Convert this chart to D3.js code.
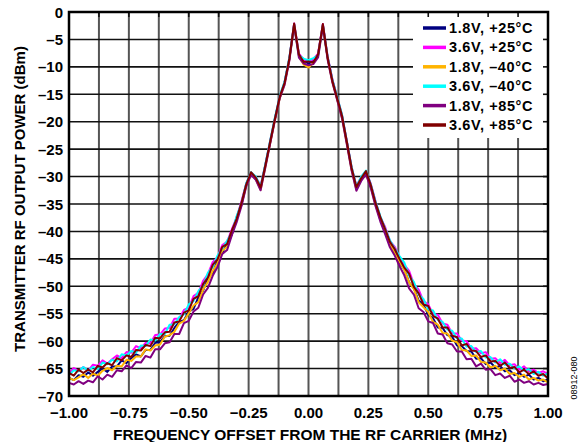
<!DOCTYPE html>
<html>
<head>
<meta charset="utf-8">
<script src="https://cdn.jsdelivr.net/npm/d3@7"></script>
<style>
  body { margin: 0; background: #fff; }
  text { font-family: Arial, "Liberation Sans", sans-serif; font-weight: bold; fill: #000; }
</style>
</head>
<body>
<svg id="chart" width="580" height="442"></svg>
<script>
// frequency offset (MHz), one sample every 0.02
const freq = [
  -1.00,-0.98,-0.96,-0.94,-0.92,-0.90,-0.88,-0.86,-0.84,-0.82,
  -0.80,-0.78,-0.76,-0.74,-0.72,-0.70,-0.68,-0.66,-0.64,-0.62,
  -0.60,-0.58,-0.56,-0.54,-0.52,-0.50,-0.48,-0.46,-0.44,-0.42,
  -0.40,-0.38,-0.36,-0.34,-0.32,-0.30,-0.28,-0.26,-0.24,-0.22,
  -0.20,-0.18,-0.16,-0.14,-0.12,-0.10,-0.08,-0.06,-0.04,-0.02,
   0.00, 0.02, 0.04, 0.06, 0.08, 0.10, 0.12, 0.14, 0.16, 0.18,
   0.20, 0.22, 0.24, 0.26, 0.28, 0.30, 0.32, 0.34, 0.36, 0.38,
   0.40, 0.42, 0.44, 0.46, 0.48, 0.50, 0.52, 0.54, 0.56, 0.58,
   0.60, 0.62, 0.64, 0.66, 0.68, 0.70, 0.72, 0.74, 0.76, 0.78,
   0.80, 0.82, 0.84, 0.86, 0.88, 0.90, 0.92, 0.94, 0.96, 0.98,
   1.00
];

// output power (dBm) per supply / temperature
const p18v25c = [
  -66.7,-67.1,-66.2,-66.5,-65.7,-66.3,-65.6,-65.0,-65.6,-64.6,
  -64.6,-63.5,-64.0,-63.1,-62.4,-62.8,-61.6,-61.6,-60.3,-60.2,
  -59.1,-59.0,-57.6,-56.5,-56.2,-54.6,-54.1,-52.0,-50.8,-48.4,
  -47.6,-45.2,-43.9,-42.1,-40.6,-37.4,-35.2,-31.4,-29.5,-30.2,
  -32.2,-27.9,-23.8,-19.4,-15.6,-12.9,-8.6,-2.2,-7.9,-8.8,
  -9.4,-8.9,-7.7,-2.3,-8.4,-12.5,-15.9,-19.1,-23.7,-28.6,
  -32.1,-30.3,-29.3,-31.8,-34.8,-37.9,-39.7,-42.4,-43.3,-45.7,
  -46.9,-49.3,-50.4,-52.6,-53.3,-55.2,-55.8,-57.5,-57.6,-58.9,
  -59.2,-60.8,-60.9,-61.8,-61.9,-63.2,-63.1,-64.2,-63.9,-64.8,
  -64.5,-65.5,-65.3,-66.2,-65.8,-66.5,-66.1,-67.0,-66.7,-67.3,
  -67.0
];
const p36v25c = [
  -65.9,-64.9,-65.4,-64.7,-65.4,-64.3,-64.5,-63.5,-64.1,-63.3,
  -62.6,-63.1,-62.0,-62.1,-60.9,-61.3,-60.3,-60.4,-58.9,-58.8,
  -57.7,-57.6,-55.9,-55.9,-54.3,-53.9,-51.8,-51.2,-49.0,-47.8,
  -45.6,-44.7,-42.5,-41.9,-39.6,-37.5,-34.5,-31.3,-29.3,-30.1,
  -31.7,-27.8,-23.5,-19.4,-15.4,-12.8,-8.4,-2.1,-7.6,-8.7,
  -9.0,-8.6,-7.6,-2.2,-8.1,-12.3,-15.6,-18.8,-23.5,-28.3,
  -31.7,-30.1,-29.0,-31.3,-34.5,-37.4,-39.2,-41.7,-42.8,-44.7,
  -46.1,-47.2,-49.6,-50.6,-52.7,-53.3,-55.1,-55.2,-56.8,-57.0,
  -58.6,-58.6,-59.9,-60.0,-61.4,-61.3,-62.2,-62.0,-63.2,-63.1,
  -64.0,-63.4,-64.4,-64.2,-65.2,-64.6,-65.5,-65.2,-65.8,-65.5,
  -66.0
];
const p18vm40c = [
  -66.7,-67.1,-66.6,-66.0,-66.7,-65.9,-66.3,-65.4,-64.9,-65.3,
  -64.5,-64.6,-63.4,-63.6,-62.8,-62.8,-61.5,-61.7,-60.8,-60.6,
  -59.2,-58.9,-58.3,-56.8,-56.3,-54.9,-53.5,-52.9,-50.6,-49.2,
  -47.2,-45.8,-43.5,-42.8,-40.3,-37.8,-35.1,-31.7,-29.6,-30.5,
  -32.4,-28.2,-23.9,-19.7,-15.7,-13.2,-8.7,-2.4,-8.1,-9.6,
  -10.1,-9.3,-8.0,-2.5,-8.5,-12.8,-16.0,-19.3,-24.0,-28.8,
  -32.4,-30.6,-29.5,-31.9,-35.2,-37.8,-40.2,-42.3,-43.9,-45.5,
  -47.0,-49.3,-50.5,-52.9,-53.8,-54.7,-56.5,-57.0,-58.5,-58.6,
  -59.9,-60.2,-61.6,-61.7,-62.7,-62.6,-63.8,-63.9,-64.8,-64.5,
  -65.3,-65.0,-66.0,-65.8,-66.5,-66.1,-67.0,-66.7,-67.2,-67.0,
  -67.5
];
const p36vm40c = [
  -66.2,-65.3,-65.5,-64.7,-65.4,-64.7,-65.1,-63.9,-64.2,-63.4,
  -63.7,-62.4,-62.6,-61.8,-62.1,-60.8,-60.9,-59.7,-59.9,-58.7,
  -58.7,-57.0,-56.9,-55.6,-55.1,-53.3,-52.7,-50.9,-49.9,-47.5,
  -46.5,-44.4,-43.1,-41.7,-40.2,-37.2,-34.9,-31.2,-29.2,-30.0,
  -31.8,-27.7,-23.4,-19.2,-15.3,-12.7,-8.3,-2.3,-7.9,-8.5,
  -8.8,-8.4,-7.9,-2.4,-8.2,-12.4,-15.5,-18.7,-23.6,-28.2,
  -31.8,-30.0,-28.9,-31.4,-34.6,-37.2,-39.5,-41.6,-43.1,-44.5,
  -45.7,-48.1,-49.2,-51.5,-52.3,-54.2,-54.4,-56.1,-56.5,-57.9,
  -58.1,-59.5,-59.5,-61.0,-60.9,-62.0,-61.8,-63.0,-62.9,-63.9,
  -63.3,-64.3,-64.1,-65.0,-64.6,-65.4,-65.1,-66.0,-65.6,-66.3,
  -65.9
];
const p18v85c = [
  -67.6,-67.9,-67.3,-67.8,-67.2,-67.5,-66.4,-67.0,-66.1,-66.5,
  -65.3,-65.5,-64.4,-64.9,-63.8,-63.9,-62.7,-63.0,-61.5,-61.5,
  -60.4,-60.2,-58.7,-58.7,-56.7,-56.3,-54.6,-53.9,-51.5,-50.3,
  -48.1,-46.5,-44.1,-43.4,-40.7,-38.3,-35.4,-31.8,-29.7,-30.6,
  -32.5,-28.3,-24.0,-19.7,-15.7,-13.3,-8.9,-2.5,-8.3,-9.4,
  -9.7,-9.5,-8.3,-2.6,-8.7,-12.9,-16.1,-19.4,-24.1,-28.9,
  -32.6,-30.8,-29.6,-32.1,-35.4,-38.2,-40.5,-42.9,-44.4,-46.3,
  -48.0,-50.4,-51.5,-54.0,-54.7,-56.4,-56.7,-58.6,-58.8,-60.4,
  -60.6,-61.9,-61.9,-63.3,-63.2,-64.6,-64.1,-65.2,-65.1,-66.2,
  -65.9,-66.7,-66.3,-67.4,-67.0,-67.6,-67.3,-67.9,-67.6,-68.0,
  -67.8
];
const p36v85c = [
  -65.8,-66.3,-65.2,-65.8,-65.2,-65.7,-64.5,-64.8,-64.0,-64.4,
  -63.1,-63.5,-62.6,-62.9,-61.6,-61.7,-60.7,-60.9,-59.4,-59.5,
  -58.4,-58.3,-56.6,-56.4,-54.8,-54.4,-52.3,-51.8,-49.6,-48.4,
  -46.1,-45.1,-42.8,-42.3,-39.8,-37.7,-34.8,-31.4,-29.2,-30.2,
  -32.0,-27.9,-23.6,-19.4,-15.4,-12.9,-8.5,-2.1,-7.7,-9.1,
  -9.0,-9.2,-7.7,-2.2,-8.3,-12.6,-15.7,-18.9,-23.6,-28.4,
  -31.9,-30.3,-29.0,-31.5,-34.8,-37.4,-39.6,-41.9,-43.2,-45.0,
  -46.6,-47.7,-50.1,-51.3,-53.3,-53.6,-55.4,-55.9,-57.5,-57.5,
  -59.0,-59.3,-60.8,-60.5,-61.7,-61.8,-62.9,-62.6,-63.7,-63.6,
  -64.5,-63.9,-64.9,-64.7,-65.7,-65.2,-66.0,-65.5,-66.3,-66.0,
  -66.8
];

const seriesData = [p18v25c, p36v25c, p18vm40c, p36vm40c, p18v85c, p36v85c];
const seriesNames = ["1.8V, +25°C", "3.6V, +25°C", "1.8V, \u201340°C", "3.6V, \u201340°C", "1.8V, +85°C", "3.6V, +85°C"];
const seriesColors = ["#000080", "#ff00ff", "#ffb400", "#00ffff", "#800080", "#800000"];

const xTicks = [-1, -0.75, -0.5, -0.25, 0, 0.25, 0.5, 0.75, 1];
const xGrid = [-0.875, -0.75, -0.625, -0.5, -0.375, -0.25, -0.125, 0, 0.125, 0.25, 0.375, 0.5, 0.625, 0.75, 0.875];
const yTicks = [0, -5, -10, -15, -20, -25, -30, -35, -40, -45, -50, -55, -60, -65, -70];

const svg = d3.select("#chart");
const margin = {left: 69, right: 32, top: 12, bottom: 46};
const W = 580, H = 442;

const x = d3.scaleLinear().domain([-1, 1]).range([margin.left, W - margin.right]);
const y = d3.scaleLinear().domain([-70, 0]).range([H - margin.bottom, margin.top]);

const dash = s => s.replace("-", "\u2013");

svg.append("rect").attr("width", W).attr("height", H).attr("fill", "#fff");

// grid
const grid = svg.append("g");
grid.selectAll(".vg").data(xGrid).enter().append("line")
  .attr("x1", d => x(d)).attr("x2", d => x(d))
  .attr("y1", y(0)).attr("y2", y(-70))
  .attr("stroke", "#555").attr("stroke-width", 2);
grid.selectAll(".hg").data(yTicks.slice(1, -1)).enter().append("line")
  .attr("x1", x(-1)).attr("x2", x(1))
  .attr("y1", d => y(d)).attr("y2", d => y(d))
  .attr("stroke", "#111").attr("stroke-width", 1.6);

// traces
const line = d3.line()
  .x((d, i) => x(freq[i]))
  .y(d => y(d));

svg.append("g").selectAll("path").data(seriesData).enter().append("path")
  .attr("d", line)
  .attr("fill", "none")
  .attr("stroke", (d, i) => seriesColors[i])
  .attr("stroke-width", 2)
  .attr("stroke-linejoin", "round");

// legend box hides the grid behind it
const legX = 413, legY = 12;
svg.append("rect")
  .attr("x", legX).attr("y", legY)
  .attr("width", x(1) - legX).attr("height", 126)
  .attr("fill", "#fff");

// short inner ticks stay visible on the border
const ticks = svg.append("g");
ticks.selectAll(".tt").data(xGrid).enter().append("line")
  .attr("x1", d => x(d)).attr("x2", d => x(d))
  .attr("y1", y(0)).attr("y2", y(0) + 5)
  .attr("stroke", "#111").attr("stroke-width", 1.6);
ticks.selectAll(".rt").data(yTicks.slice(1, -1)).enter().append("line")
  .attr("x1", x(1) - 5).attr("x2", x(1))
  .attr("y1", d => y(d)).attr("y2", d => y(d))
  .attr("stroke", "#111").attr("stroke-width", 1.6);

const leg = svg.append("g").selectAll("g").data(seriesNames).enter().append("g")
  .attr("transform", (d, i) => `translate(0,${28 + i * 19.4})`);
leg.append("line")
  .attr("x1", 423).attr("x2", 446)
  .attr("stroke", (d, i) => seriesColors[i])
  .attr("stroke-width", 3.5);
leg.append("text")
  .attr("x", 449).attr("y", 5)
  .style("font-size", "14.5px")
  .style("letter-spacing", "0.6px")
  .text(d => d);

// frame
svg.append("rect")
  .attr("x", x(-1)).attr("y", y(0))
  .attr("width", x(1) - x(-1)).attr("height", y(-70) - y(0))
  .attr("fill", "none").attr("stroke", "#000").attr("stroke-width", 2.5);

// tick labels
svg.append("g").selectAll("text").data(yTicks).enter().append("text")
  .attr("x", 63).attr("y", d => y(d) + 5.5)
  .attr("text-anchor", "end")
  .style("font-size", "15px")
  .text(d => dash(String(d)));

svg.append("g").selectAll("text").data(xTicks).enter().append("text")
  .attr("x", d => x(d)).attr("y", 418)
  .attr("text-anchor", "middle")
  .style("font-size", "15px")
  .text(d => dash(d3.format(".2f")(d)));

// axis titles
svg.append("text")
  .attr("x", 310).attr("y", 440)
  .attr("text-anchor", "middle")
  .style("font-size", "15.5px")
  .text("FREQUENCY OFFSET FROM THE RF CARRIER (MHz)");

svg.append("text")
  .attr("transform", "translate(25,199) rotate(-90)")
  .attr("text-anchor", "middle")
  .style("font-size", "15px")
  .text("TRANSMITTER RF OUTPUT POWER (dBm)");

svg.append("text")
  .attr("transform", "translate(577,378) rotate(-90)")
  .attr("text-anchor", "middle")
  .style("font-size", "9px")
  .style("font-weight", "normal")
  .text("08912-080");
</script>
</body>
</html>
